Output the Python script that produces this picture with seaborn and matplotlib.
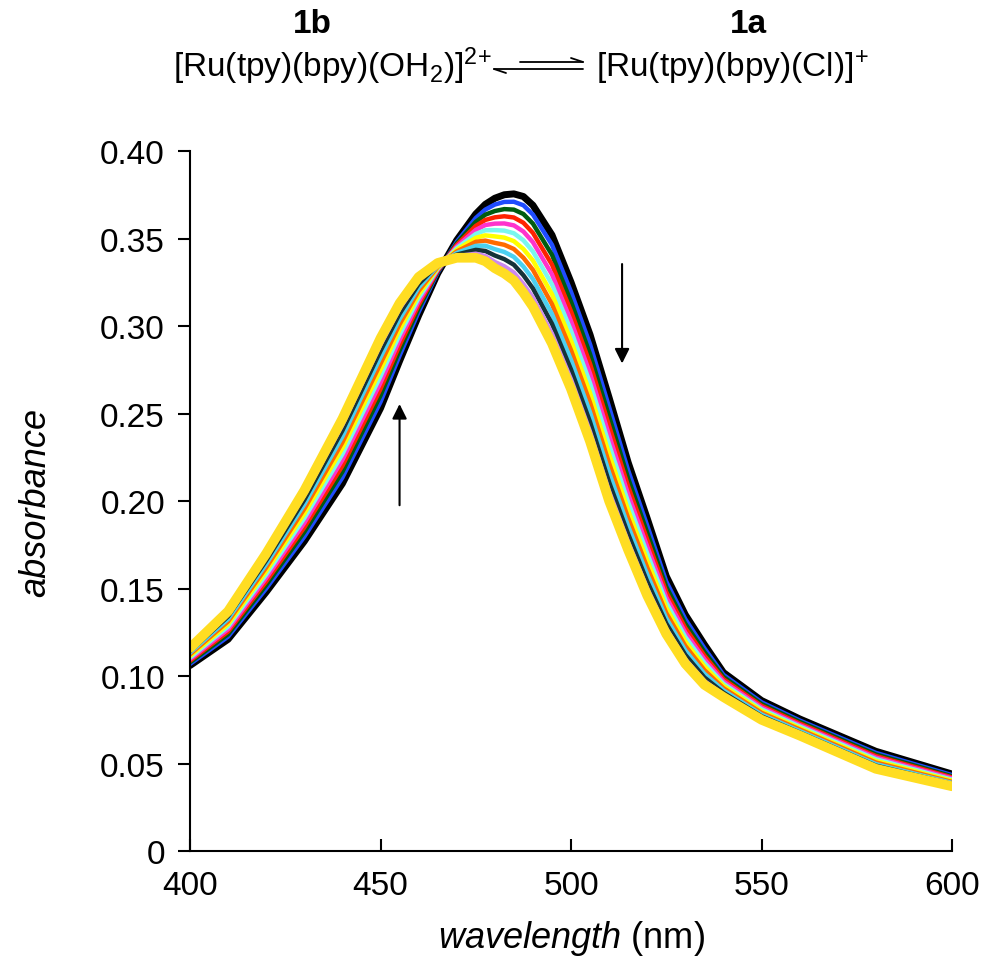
import numpy as np
import pandas as pd
import seaborn as sns
import matplotlib.pyplot as plt
from matplotlib import font_manager
from matplotlib.lines import Line2D

# wavelengths (nm) of the sampled points
wavelength = [400, 410, 420, 430, 440, 450, 455, 460, 465, 470, 475, 477.5, 480, 482.5, 485, 487.5, 490,
              495, 500, 505, 510, 515, 520, 525, 530, 535, 540, 550, 560, 580, 600]

# absorbance of each scan, first (black) to last (gold)
scan_00 = [.106, .121, .148, .177, .210, .253, .280, .306, .330, .349, .364, .3695, .373, .375, .3755, .374, .369,
           .352, .325, .295, .259, .222, .190, .157, .135, .118, .102, .086, .0755, .057, .044]
scan_01 = [.1069, .1225, .150, .1796, .2134, .2566, .283, .308, .3305, .3481, .3617, .3665, .3694, .3709, .3710, .369, .3637,
           .3464, .3195, .2895, .2536, .2175, .186, .154, .1325, .1159, .1007, .085, .0746, .0561, .0434]
scan_02 = [.1078, .1239, .152, .1823, .2167, .2603, .286, .310, .3311, .3472, .3595, .3636, .3657, .3668, .3665, .364, .3585,
           .3407, .3139, .2839, .2483, .2129, .182, .151, .1299, .1138, .0995, .084, .0738, .0552, .0427]
scan_03 = [.1087, .1254, .154, .1849, .2201, .2640, .289, .312, .3316, .3463, .3572, .3606, .3621, .3627, .3620, .359, .3532,
           .3351, .3084, .2784, .2429, .2084, .178, .148, .1274, .1117, .0982, .083, .0729, .0543, .0421]
scan_04 = [.1096, .1268, .156, .1875, .2235, .2676, .292, .314, .3322, .3454, .3549, .3577, .3585, .3586, .3575, .354, .3479,
           .3295, .3028, .2728, .2375, .2038, .174, .145, .1248, .1096, .0969, .082, .0720, .0534, .0415]
scan_05 = [.1105, .1283, .158, .1902, .2268, .2713, .295, .316, .3327, .3445, .3526, .3547, .3548, .3545, .3530, .349, .3426,
           .3238, .2973, .2673, .2322, .1993, .170, .142, .1223, .1075, .0956, .081, .0712, .0525, .0408]
scan_06 = [.1115, .1297, .160, .1928, .2302, .2749, .298, .318, .3333, .3435, .3504, .3518, .3512, .3505, .3485, .344, .3374,
           .3182, .2917, .2617, .2268, .1947, .166, .139, .1197, .1055, .0944, .080, .0703, .0515, .0402]
scan_07 = [.1124, .1312, .162, .1955, .2335, .2785, .301, .320, .3338, .3426, .3481, .3488, .3475, .3464, .3440, .339, .3321,
           .3125, .2862, .2562, .2215, .1902, .162, .136, .1172, .1034, .0931, .079, .0695, .0506, .0395]
scan_08 = [.1133, .1326, .164, .1981, .2369, .2822, .304, .322, .3344, .3417, .3458, .3459, .3439, .3423, .3395, .334, .3268,
           .3069, .2806, .2506, .2161, .1856, .158, .133, .1146, .1013, .0918, .078, .0686, .0497, .0389]
scan_09 = [.1142, .1341, .166, .2007, .2403, .2858, .307, .324, .3349, .3408, .3435, .3429, .3403, .3382, .3350, .329, .3215,
           .3013, .2751, .2451, .2107, .1811, .154, .130, .1121, .0992, .0905, .077, .0677, .0488, .0383]
scan_10 = [.1151, .1355, .168, .2034, .2436, .2894, .310, .326, .3355, .3399, .3413, .3400, .3366, .3341, .3305, .324, .3163,
           .2956, .2695, .2395, .2054, .1765, .150, .127, .1095, .0971, .0893, .076, .0669, .0479, .0376]
scan_11 = [.116, .137, .170, .206, .247, .293, .313, .328, .336, .339, .339, .337, .333, .330, .326, .319, .311,
           .290, .264, .234, .200, .172, .146, .124, .107, .095, .088, .075, .066, .047, .037]

scans = [scan_00, scan_01, scan_02, scan_03, scan_04, scan_05,
         scan_06, scan_07, scan_08, scan_09, scan_10, scan_11]
line_colors = ['#000000', '#1f4cff', '#005c10', '#ff2200', '#ff33cc', '#7af7ee',
               '#ffff00', '#ff6a00', '#4cd0f0', '#163238', '#cc88ee', '#ffdd22']
line_widths = [5, 3.2, 3.2, 3.2, 3.2, 3.2, 3.2, 3.2, 3.2, 3.2, 3.2, 7]

y_ticks = [0, 0.05, 0.10, 0.15, 0.20, 0.25, 0.30, 0.35, 0.40]
x_ticks = [400, 450, 500, 550, 600]

# long table for seaborn
rows = []
for i, vals in enumerate(scans):
    for w, a in zip(wavelength, vals):
        rows.append((i, w, a))
df = pd.DataFrame(rows, columns=['scan', 'wavelength', 'absorbance'])

sns.set_style('ticks')
names = {f.name for f in font_manager.fontManager.ttflist}
base = 'Liberation Sans'
narrow = 'Liberation Sans Narrow' if 'Liberation Sans Narrow' in names else base
plt.rcParams['font.family'] = [base, 'DejaVu Sans']
plt.rcParams['mathtext.fontset'] = 'custom'
plt.rcParams['mathtext.rm'] = base
plt.rcParams['mathtext.it'] = narrow + ':italic'
plt.rcParams['mathtext.bf'] = base + ':bold'
for key in ['text.color', 'axes.labelcolor', 'xtick.color', 'ytick.color', 'axes.edgecolor']:
    plt.rcParams[key] = 'black'
plt.rcParams['xtick.direction'] = 'in'
plt.rcParams['ytick.direction'] = 'out'

fig = plt.figure(figsize=(9.88, 9.62), dpi=100)
ax = fig.add_axes([0.1923, 0.1143, 0.7713, 0.7277])

for i in range(len(scans)):
    sns.lineplot(data=df[df['scan'] == i], x='wavelength', y='absorbance',
                 color=line_colors[i], lw=line_widths[i], ax=ax,
                 estimator=None, sort=False, legend=False)

ax.set_xlim(400, 600)
ax.set_ylim(0, 0.40)
ax.set_xticks(x_ticks)
ax.set_yticks(y_ticks)
ax.set_yticklabels(['0'] + [f'{v:.2f}' for v in y_ticks[1:]])
sns.despine(ax=ax)
for s in ['left', 'bottom']:
    ax.spines[s].set_linewidth(1.5)
ax.tick_params(axis='y', direction='out', length=9, width=1.5, pad=9, labelsize=24)
ax.tick_params(axis='x', direction='in', length=9, width=1.5, pad=14,
               labelsize=26 if narrow != base else 24)
for lbl in ax.get_xticklabels():
    lbl.set_fontfamily(narrow)

ax.set_xlabel(r'$\mathit{wavelength}$ (nm)', fontsize=26, family=narrow)
ax.xaxis.set_label_coords(0.5, -0.095)
ax.set_ylabel('absorbance', fontsize=26, style='italic', family=narrow)
ax.yaxis.set_label_coords(-0.18, 0.5)

# trend arrows
ax.annotate('', xy=(455, 0.257), xytext=(455, 0.196),
            arrowprops=dict(arrowstyle='-|>', color='k', lw=1.5, mutation_scale=22))
ax.annotate('', xy=(513.4, 0.277), xytext=(513.4, 0.337),
            arrowprops=dict(arrowstyle='-|>', color='k', lw=1.5, mutation_scale=22))

# equilibrium header
fig.text(312 / 988, 1 - 33 / 962, '1b', ha='center', va='baseline', fontsize=24, fontweight='bold')
fig.text(748 / 988, 1 - 33 / 962, '1a', ha='center', va='baseline', fontsize=24, fontweight='bold')
fig.text(492 / 988, 1 - 77 / 962, r'[Ru(tpy)(bpy)(OH$_2$)]$^{2\!+}$', ha='right', va='baseline', fontsize=24)
fig.text(596 / 988, 1 - 77 / 962, r'[Ru(tpy)(bpy)(Cl)]$^{+}$', ha='left', va='baseline', fontsize=24)

W, H = 988, 962
def seg(x0, y0, x1, y1):
    fig.add_artist(Line2D([x0 / W, x1 / W], [1 - y0 / H, 1 - y1 / H],
                          transform=fig.transFigure, color='k', lw=1.3))

seg(520, 63, 583, 63)
seg(571, 59, 583, 63)
seg(494, 70, 583, 70)
seg(494, 70, 506, 74)

fig.savefig('out.png', dpi=100)
